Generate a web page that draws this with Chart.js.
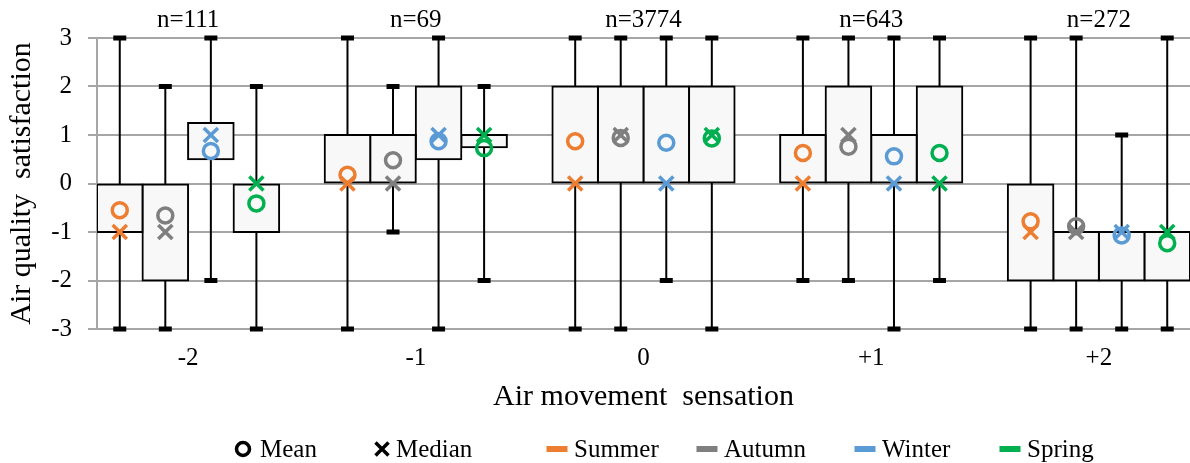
<!DOCTYPE html>
<html>
<head>
<meta charset="utf-8">
<title>Air quality satisfaction by air movement sensation</title>
<script src="https://cdn.jsdelivr.net/npm/chart.js@4.4.1/dist/chart.umd.min.js"></script>
<style>
  html, body { margin: 0; padding: 0; background: #fff; }
  #wrap { width: 1190px; height: 463px; }
</style>
</head>
<body>
<div id="wrap"><canvas id="boxes"></canvas></div>
<script>
// air movement sensation votes along the x axis
const categories = ['-2', '-1', '0', '+1', '+2'];
const sampleSizes = [111, 69, 3774, 643, 272];
const seasons = ['Summer', 'Autumn', 'Winter', 'Spring'];
const seasonColors = ['#ED7D31', '#7F7F7F', '#5B9BD5', '#00B050'];

// one row per season (Summer, Autumn, Winter, Spring), one value per category
const whiskerLow = [
  [-3, -3, -3, -2, -3],
  [-3, -1, -3, -2, -3],
  [-2, -3, -2, -3, -3],
  [-3, -2, -3, -2, -3]
];
const quartile1 = [
  [-1, 0, 0, 0, -2],
  [-2, 0, 0, 0, -2],
  [0.5, 0.5, 0, 0, -2],
  [-1, 0.75, 0, 0, -2]
];
const quartile3 = [
  [0, 1, 2, 1, 0],
  [0, 1, 2, 2, -1],
  [1.25, 2, 2, 1, -1],
  [0, 1, 2, 2, -1]
];
const whiskerHigh = [
  [3, 3, 3, 3, 3],
  [2, 2, 3, 3, 3],
  [3, 3, 3, 3, 1],
  [2, 2, 3, 3, 3]
];
const medians = [
  [-1, 0, 0, 0, -1],
  [-1, 0, 1, 1, -1],
  [1, 1, 0, 0, -1],
  [0, 1, 1, 0, -1]
];
const means = [
  [-0.55, 0.18, 0.87, 0.63, -0.78],
  [-0.66, 0.48, 0.94, 0.76, -0.88],
  [0.67, 0.87, 0.84, 0.56, -1.07],
  [-0.41, 0.73, 0.93, 0.63, -1.23]
];

const GROUP = 0.8;           // share of a category taken by the four boxes
const FONT = "'Liberation Serif', 'Times New Roman', serif";

Chart.defaults.font.family = FONT;
Chart.defaults.color = '#000';

// x offset of a season's box inside its category group
const slot = s => (s - (seasons.length - 1) / 2) * GROUP / seasons.length;

const integerTicks = axis => {
  axis.ticks = categories.map((c, i) => ({ value: i }));
};

// boxes span the quartiles; inflating by 1px centres the 2px border on the box edge
const boxSets = seasons.map((name, s) => ({
  type: 'bar',
  label: name,
  data: categories.map((c, i) => ({ x: i, y: [quartile1[s][i], quartile3[s][i]] })),
  backgroundColor: '#f8f8f8',
  borderColor: '#000',
  borderWidth: 2,
  borderSkipped: false,
  inflateAmount: 1,
  categoryPercentage: GROUP,
  barPercentage: 1,
  order: 2
}));

const medianSets = seasons.map((name, s) => ({
  type: 'scatter',
  label: name + ' median',
  data: categories.map((c, i) => ({ x: i + slot(s), y: medians[s][i] })),
  pointStyle: 'crossRot',
  pointRadius: 10,
  borderWidth: 3.5,
  borderColor: seasonColors[s],
  order: 1
}));

const meanSets = seasons.map((name, s) => ({
  type: 'scatter',
  label: name + ' mean',
  data: categories.map((c, i) => ({ x: i + slot(s), y: means[s][i] })),
  pointStyle: 'circle',
  pointRadius: 7.5,
  borderWidth: 3.5,
  borderColor: seasonColors[s],
  backgroundColor: 'rgba(0,0,0,0)',
  order: 0
}));

// whisker lines with flat caps, drawn under the boxes
const whiskers = {
  id: 'whiskers',
  beforeDatasetsDraw(chart) {
    const { ctx } = chart;
    const y = chart.scales.y;
    ctx.save();
    ctx.strokeStyle = '#000';
    ctx.fillStyle = '#000';
    ctx.lineWidth = 2;
    seasons.forEach((name, s) => {
      chart.getDatasetMeta(s).data.forEach((bar, i) => {
        const top = y.getPixelForValue(whiskerHigh[s][i]);
        const bottom = y.getPixelForValue(whiskerLow[s][i]);
        ctx.beginPath();
        ctx.moveTo(bar.x, top);
        ctx.lineTo(bar.x, bottom);
        ctx.stroke();
        ctx.fillRect(bar.x - 6.5, top - 2.5, 13, 5);
        ctx.fillRect(bar.x - 6.5, bottom - 2.5, 13, 5);
      });
    });
    ctx.restore();
  }
};

// legend row: marker keys first, then the season colours
const legendItems = [
  { text: 'Mean', icon: 'circle', color: '#000' },
  { text: 'Median', icon: 'cross', color: '#000' }
].concat(seasons.map((name, s) => ({ text: name, icon: 'bar', color: seasonColors[s] })));
const legendCenters = [243, 382, 557, 707, 865, 1010];

const legendRow = {
  id: 'legendRow',
  afterDraw(chart) {
    const { ctx } = chart;
    const cy = 449;
    ctx.save();
    ctx.font = '25px ' + FONT;
    ctx.textBaseline = 'middle';
    ctx.textAlign = 'left';
    legendItems.forEach((item, k) => {
      const cx = legendCenters[k];
      ctx.strokeStyle = item.color;
      ctx.fillStyle = item.color;
      ctx.lineWidth = 3.5;
      if (item.icon === 'circle') {
        ctx.beginPath();
        ctx.arc(cx, cy, 6.5, 0, Math.PI * 2);
        ctx.stroke();
      } else if (item.icon === 'cross') {
        ctx.beginPath();
        ctx.moveTo(cx - 6.5, cy - 6.5);
        ctx.lineTo(cx + 6.5, cy + 6.5);
        ctx.moveTo(cx + 6.5, cy - 6.5);
        ctx.lineTo(cx - 6.5, cy + 6.5);
        ctx.stroke();
      } else {
        ctx.fillRect(cx - 10.5, cy - 3, 21, 6);
      }
      ctx.fillStyle = '#000';
      ctx.fillText(item.text, cx + (item.icon === 'cross' ? 14 : 17), cy + 1);
    });
    ctx.restore();
  }
};

new Chart(document.getElementById('boxes'), {
  type: 'bar',
  data: { datasets: boxSets.concat(medianSets, meanSets) },
  options: {
    responsive: true,
    maintainAspectRatio: false,
    animation: false,
    layout: { padding: 0, autoPadding: false },
    plugins: {
      legend: { display: false },
      tooltip: { enabled: false }
    },
    scales: {
      x: {
        type: 'linear',
        position: 'bottom',
        min: -0.4,
        max: 4.4,
        offset: false,
        afterBuildTicks: integerTicks,
        afterFit: axis => { axis.height = 134; },
        ticks: {
          callback: value => categories[value],
          font: { size: 25 },
          padding: 14,
          maxRotation: 0
        },
        grid: { display: false, drawTicks: false },
        border: { display: false },
        title: {
          display: true,
          text: 'Air movement  sensation',
          font: { size: 30 },
          padding: { top: 0, bottom: 48 }
        }
      },
      counts: {
        type: 'linear',
        position: 'top',
        min: -0.4,
        max: 4.4,
        offset: false,
        afterBuildTicks: integerTicks,
        afterFit: axis => { axis.height = 38; },
        ticks: {
          callback: value => 'n=' + sampleSizes[value],
          font: { size: 25 },
          padding: 3,
          maxRotation: 0
        },
        grid: { display: false, drawTicks: false },
        border: { display: false }
      },
      y: {
        min: -3,
        max: 3,
        afterFit: axis => { axis.width = 97; },
        ticks: { stepSize: 1, font: { size: 25 }, padding: 16 },
        grid: { color: '#a6a6a6', lineWidth: 2, tickLength: 9 },
        border: { color: '#a6a6a6', width: 2 },
        title: {
          display: true,
          text: 'Air quality  satisfaction',
          font: { size: 30 },
          padding: { top: 4, bottom: 0 }
        }
      }
    }
  },
  plugins: [whiskers, legendRow]
});
</script>
</body>
</html>
